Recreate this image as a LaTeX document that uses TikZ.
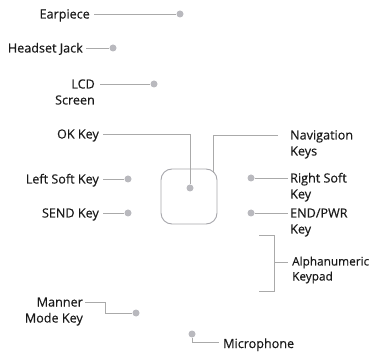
\documentclass[tikz,border=0pt]{standalone}
\usepackage{fontspec}
\setmainfont{Open Sans}[FakeBold=0.35]
\definecolor{dotc}{HTML}{B9B9BE}
\definecolor{linec}{HTML}{AAAAAA}
\definecolor{txtc}{HTML}{1A1A1A}
\begin{document}
\begin{tikzpicture}[x=1pt,y=-1pt,
  lab/.style={inner sep=0pt,text=txtc,font=\fontsize{12.6}{16}\selectfont},
  labL/.style={lab,anchor=base east,align=right},
  labR/.style={lab,anchor=base west,align=left},
  dot/.style={circle,fill=dotc,inner sep=0pt,minimum size=7pt},
  conn/.style={draw=linec,line width=0.8pt}]
\useasboundingbox (0,0) rectangle (377,352);
\draw[draw=dotc!90!black,line width=0.9pt,rounded corners=11pt] (161,169) rectangle (217,224);
% dots
\node[dot] (eardot) at (180,14) {};
\node[dot] (hjdot) at (113,48) {};
\node[dot] (lcddot) at (154,84) {};
\node[dot] (okdot) at (190,188) {};
\node[dot] (lsdot) at (128,179) {};
\node[dot] (senddot) at (128,213) {};
\node[dot] (rsdot) at (251,178) {};
\node[dot] (enddot) at (251,213) {};
\node[dot] (mmdot) at (136,313) {};
\node[dot] (micdot) at (192,334) {};
% labels (base anchor = baseline of last line)
\node[labL] (ear) at (90,18.5) {Earpiece};
\node[labL] (hj) at (83,52.5) {Headset Jack};
\node[labL] (lcd) at (95,104.5) {LCD\\Screen};
\node[labL] (ok) at (99,138.5) {OK Key};
\node[labL] (ls) at (99,183.5) {Left Soft Key};
\node[labL] (send) at (99,217.5) {SEND Key};
\node[labR] (nav) at (290,155.5) {Navigation\\Keys};
\node[labR] (rs) at (290,198.5) {Right Soft\\Key};
\node[labR] (endk) at (290,233.5) {END/PWR\\Key};
\node[labR,font=\fontsize{11.8}{15}\selectfont] (alpha) at (292,280.5) {Alphanumeric\\Keypad};
\node[labL] (mm) at (83,322.5) {Manner\\Mode Key};
\node[labR] (mic) at (223,348) {Microphone};
% coordinates
\coordinate (navs) at (278,135);
\coordinate (navb) at (213,173);
\coordinate (brt) at (259,235);
\coordinate (brb) at (259,291);
\coordinate (brm) at (288,262);
% connectors
\draw[conn] ([xshift=4pt]ear.east |- eardot) -- (eardot);
\draw[conn] ([xshift=3pt]hj.east |- hjdot) -- (hjdot);
\draw[conn] ([xshift=5pt]lcd.east |- lcddot) -- (lcddot);
\draw[conn] ([xshift=4pt]ok.east |- 0,134) -| (okdot);
\draw[conn] ([xshift=4pt]ls.east |- lsdot) -- (lsdot);
\draw[conn] ([xshift=4pt]send.east |- senddot) -- (senddot);
\draw[conn] (navs) -| (navb);
\draw[conn] (rsdot) -- ([xshift=-2pt]rs.west |- rsdot);
\draw[conn] (enddot) -- ([xshift=-2pt]endk.west |- enddot);
\draw[conn] (brt) -- (274,235) -- (274,291) -- (brb);
\draw[conn] (274,262) -- (brm);
\draw[conn] ([xshift=2pt]mm.east |- 0,302) -- (105,302) |- (mmdot);
\draw[conn] (micdot) |- (219,342);
\end{tikzpicture}
\end{document}
